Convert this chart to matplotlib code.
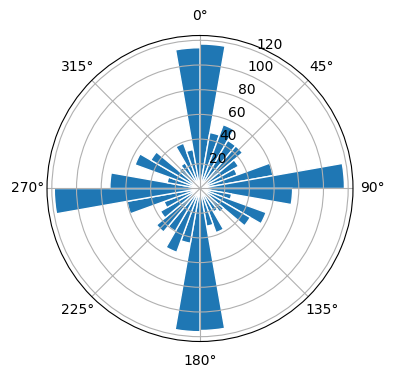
import numpy as np
import matplotlib
matplotlib.use('Agg')
import matplotlib.pyplot as plt

# counts per 10 degree direction bin, starting at 0 deg going clockwise
bin_starts = np.arange(0, 360, 10)
counts = [117, 46, 55, 45, 45, 36, 32, 60, 117,
          75, 26, 57, 47, 25, 22, 38, 31, 115,
          116, 45, 55, 40, 46, 37, 31, 60, 118,
          73, 27, 56, 46, 22, 24, 39, 32, 114]

fig = plt.figure(figsize=(3.96, 3.8), dpi=100)
ax = fig.add_axes([0.1187, 0.1013, 0.7727, 0.8053], projection='polar')
ax.set_theta_zero_location('N')
ax.set_theta_direction(-1)

ax.bar(np.deg2rad(bin_starts), counts, width=np.deg2rad(10), align='edge',
       color='#1f77b4', edgecolor='white', linewidth=1)

ax.grid(True)

fig.savefig('out.png', dpi=100)
